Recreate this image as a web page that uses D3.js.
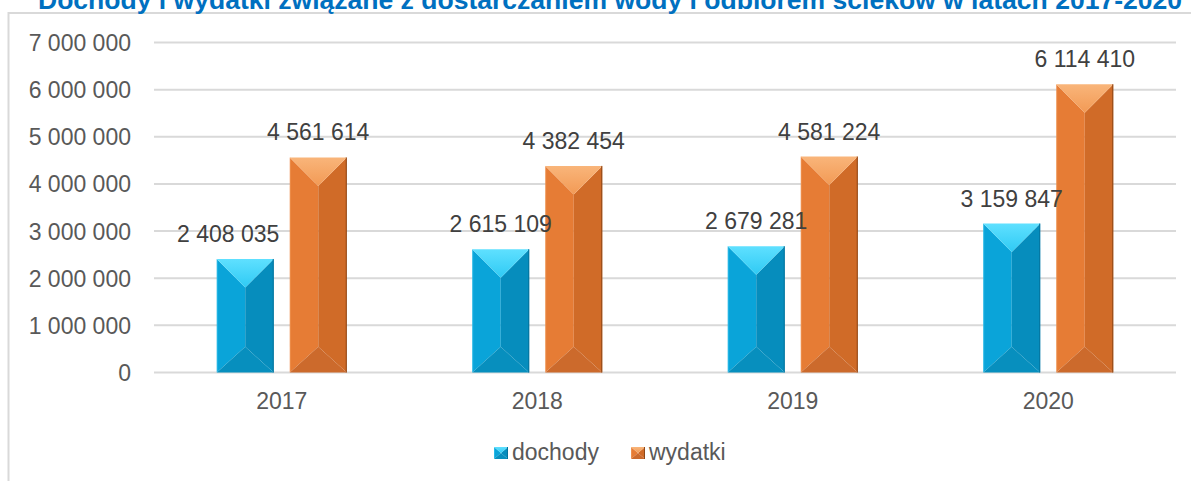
<!DOCTYPE html>
<html>
<head>
<meta charset="utf-8">
<script src="https://cdn.jsdelivr.net/npm/d3@7"></script>
<style>
  html, body { margin: 0; padding: 0; background: #fff; }
  svg { display: block; }
  text { font-family: "Liberation Sans", Arial, sans-serif; }
</style>
</head>
<body>
<svg id="chart" width="1191" height="481"></svg>
<script>
// ---- data ----
const title = "Dochody i wydatki związane z dostarczaniem wody i odbiorem ścieków w latach 2017-2020";
const years = ["2017", "2018", "2019", "2020"];
const seriesNames = ["dochody", "wydatki"];
const dochody = [2408035, 2615109, 2679281, 3159847];
const wydatki = [4561614, 4382454, 4581224, 6114410];
const yTicks = [0, 1000000, 2000000, 3000000, 4000000, 5000000, 6000000, 7000000];

// ---- setup ----
const svg = d3.select("#chart");
const W = 1191, H = 481;
const plot = { left: 154, right: 1176, top: 42.5, bottom: 372.5 };

const locale = d3.formatLocale({ decimal: ",", thousands: " ", grouping: [3], currency: ["", ""] });
const fmt = locale.format(",d");

const x0 = d3.scaleBand().domain(years).range([plot.left, plot.right]).padding(0);
const groupW = 130;
const x1 = d3.scaleBand().domain(seriesNames).range([0, groupW]).paddingInner(0.22).paddingOuter(0);
const y = d3.scaleLinear().domain([0, 7000000]).range([plot.bottom, plot.top]);

const palette = {
  dochody: { top: "#2fcaf4", topEdge: "#5fe0ff", left: "#0aa4d9", right: "#068dbd", bottom: "#078fbe", edge: "#05739c" },
  wydatki: { top: "#f29a55", topEdge: "#f9b57a", left: "#e67c35", right: "#d06b28", bottom: "#cc6a2c", edge: "#8e4717" }
};

const defs = svg.append("defs");
Object.entries(palette).forEach(([k, c]) => {
  const g = defs.append("linearGradient").attr("id", "top-" + k).attr("x1", 0).attr("y1", 0).attr("x2", 0).attr("y2", 1);
  g.append("stop").attr("offset", "0%").attr("stop-color", c.topEdge);
  g.append("stop").attr("offset", "100%").attr("stop-color", c.top);
});

// frame
svg.append("path")
  .attr("d", `M8.5,${H} L8.5,13 L${W},13`)
  .attr("fill", "none").attr("stroke", "#d9d9d9").attr("stroke-width", 2);

// title (cut at the top edge, as in the reference)
svg.append("text")
  .attr("x", 38).attr("y", 9)
  .attr("text-anchor", "start")
  .attr("font-size", 26).attr("font-weight", "bold")
  .attr("fill", "#0070c0")
  .attr("textLength", 1144).attr("lengthAdjust", "spacingAndGlyphs")
  .text(title);

// gridlines
svg.append("g").selectAll("line").data(yTicks).join("line")
  .attr("x1", plot.left).attr("x2", plot.right)
  .attr("y1", d => y(d)).attr("y2", d => y(d))
  .attr("stroke", "#d9d9d9").attr("stroke-width", 2);

// y axis labels
const yAxis = d3.axisLeft(y).tickValues(yTicks).tickFormat(fmt).tickSize(0).tickPadding(0);
const yg = svg.append("g").attr("transform", `translate(131,0)`).call(yAxis);
yg.select(".domain").remove();
yg.selectAll("text").attr("font-size", 23).attr("fill", "#595959")
  .attr("font-family", "'Liberation Sans', Arial, sans-serif").attr("dy", "0.35em");

// x axis labels
const xAxis = d3.axisBottom(x0).tickSize(0).tickPadding(0);
const xg = svg.append("g").attr("transform", `translate(0,${plot.bottom})`).call(xAxis);
xg.select(".domain").remove();
xg.selectAll("text").attr("font-size", 23).attr("fill", "#595959")
  .attr("font-family", "'Liberation Sans', Arial, sans-serif")
  .attr("dy", null).attr("y", 36.5);

// bevelled bar drawer
function bevel(g, bx, by, bw, bh, key) {
  const c = palette[key];
  const x0_ = bx, x1_ = bx + bw, xm = bx + bw / 2, y0_ = by, y1_ = by + bh;
  const d = Math.min(bw / 2, bh / 2);
  const db = Math.min(bw * 0.45, bh / 2);
  const pts = a => a.map(p => p.join(",")).join(" ");
  g.append("polygon").attr("points", pts([[x0_, y0_], [xm, y0_ + d], [xm, y1_ - db], [x0_, y1_]])).attr("fill", c.left);
  g.append("polygon").attr("points", pts([[x1_, y0_], [xm, y0_ + d], [xm, y1_ - db], [x1_, y1_]])).attr("fill", c.right);
  g.append("polygon").attr("points", pts([[x0_, y1_], [x1_, y1_], [xm, y1_ - db]])).attr("fill", c.bottom);
  g.append("polygon").attr("points", pts([[x0_, y0_], [x1_, y0_], [xm, y0_ + d]])).attr("fill", `url(#top-${key})`);
  g.append("line").attr("x1", x1_ - 0.5).attr("x2", x1_ - 0.5).attr("y1", y0_).attr("y2", y1_)
    .attr("stroke", c.edge).attr("stroke-width", 1);
  g.append("line").attr("x1", x0_ + 0.5).attr("x2", x0_ + 0.5).attr("y1", y0_).attr("y2", y1_)
    .attr("stroke", c.topEdge).attr("stroke-opacity", 0.35).attr("stroke-width", 1);
}

const rows = years.map((yr, i) => ({ year: yr, values: [
  { key: "dochody", value: dochody[i] },
  { key: "wydatki", value: wydatki[i] }
]}));

const barsG = svg.append("g");
rows.forEach(r => {
  const gx = x0(r.year) + x0.bandwidth() / 2 - groupW / 2;
  r.values.forEach(v => {
    const bx = gx + x1(v.key);
    const by = y(v.value);
    bevel(barsG, bx, by, x1.bandwidth(), y(0) - by, v.key);
  });
});

// data labels
const labelsG = svg.append("g");
rows.forEach(r => {
  const gx = x0(r.year) + x0.bandwidth() / 2 - groupW / 2;
  r.values.forEach(v => {
    const shift = (r.year === "2017" && v.key === "dochody") ? -17 : 0;
    labelsG.append("text")
      .attr("x", gx + x1(v.key) + x1.bandwidth() / 2 + shift)
      .attr("y", y(v.value) - 17)
      .attr("text-anchor", "middle")
      .attr("font-size", 23).attr("fill", "#404040")
      .text(fmt(v.value));
  });
});

// legend
const legend = svg.append("g");
const legendPos = [{ key: "dochody", x: 494 }, { key: "wydatki", x: 631 }];
legendPos.forEach(l => {
  const mg = legend.append("g");
  bevel(mg, l.x, 447, 14, 12, l.key);
  legend.append("text").attr("x", l.x + 18).attr("y", 460)
    .attr("font-size", 23).attr("fill", "#595959").text(l.key);
});
</script>
</body>
</html>
